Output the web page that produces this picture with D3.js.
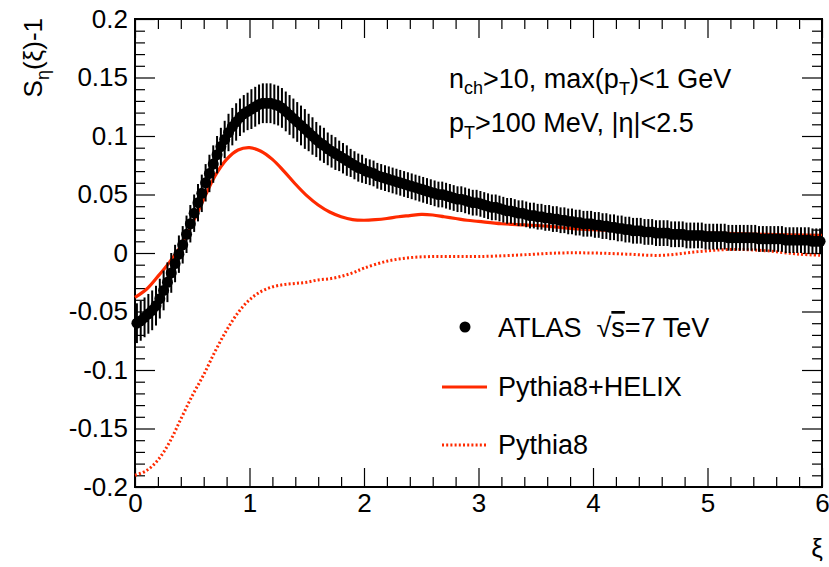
<!DOCTYPE html>
<html>
<head>
<meta charset="utf-8">
<script src="https://cdn.jsdelivr.net/npm/d3@7"></script>
<style>
  html, body { margin: 0; padding: 0; background: #fff; }
  svg { display: block; font-family: "Liberation Sans", Arial, Helvetica, sans-serif; }
</style>
</head>
<body>
<svg id="chart" width="829" height="567"></svg>
<script>
// ---- data ----
const xiMin = 0, xiMax = 6, nBins = 180;
// ATLAS S_eta(xi)-1, one value per bin (bin width 6/180)
const atlasValues = [
  -0.060,-0.058,-0.055,-0.052,-0.049,-0.045,-0.039,-0.032,-0.025,-0.017,
  -0.009,-0.001,0.007,0.016,0.025,0.034,0.043,0.051,0.060,0.068,
  0.076,0.084,0.091,0.097,0.103,0.108,0.112,0.116,0.119,0.121,
  0.123,0.125,0.127,0.128,0.128,0.128,0.127,0.126,0.124,0.121,
  0.118,0.115,0.112,0.109,0.106,0.103,0.100,0.097,0.094,0.092,
  0.089,0.087,0.085,0.083,0.081,0.079,0.077,0.075,0.073,0.072,
  0.070,0.069,0.068,0.066,0.065,0.064,0.063,0.062,0.061,0.060,
  0.059,0.058,0.057,0.056,0.055,0.054,0.053,0.052,0.051,0.050,
  0.050,0.049,0.048,0.047,0.046,0.046,0.045,0.044,0.043,0.043,
  0.042,0.041,0.040,0.039,0.039,0.038,0.037,0.036,0.036,0.035,
  0.034,0.034,0.033,0.032,0.032,0.031,0.031,0.030,0.030,0.029,
  0.029,0.028,0.028,0.027,0.027,0.026,0.026,0.025,0.025,0.025,
  0.024,0.024,0.023,0.023,0.022,0.022,0.021,0.021,0.020,0.020,
  0.019,0.019,0.019,0.018,0.018,0.018,0.017,0.017,0.017,0.017,
  0.016,0.016,0.016,0.016,0.015,0.015,0.015,0.015,0.015,0.014,
  0.014,0.014,0.014,0.014,0.014,0.013,0.013,0.013,0.013,0.013,
  0.013,0.013,0.013,0.012,0.012,0.012,0.012,0.012,0.012,0.012,
  0.011,0.011,0.011,0.011,0.011,0.011,0.011,0.010,0.010,0.010
];
const atlasErrors = [
  0.017,0.017,0.017,0.017,0.017,0.017,0.017,0.017,0.017,0.017,
  0.016,0.016,0.016,0.016,0.016,0.016,0.016,0.016,0.016,0.016,
  0.016,0.016,0.016,0.016,0.016,0.016,0.016,0.016,0.016,0.016,
  0.017,0.017,0.017,0.017,0.017,0.017,0.017,0.017,0.017,0.017,
  0.017,0.017,0.017,0.017,0.017,0.016,0.016,0.015,0.015,0.015,
  0.014,0.014,0.014,0.013,0.013,0.013,0.012,0.012,0.012,0.012,
  0.011,0.011,0.011,0.011,0.011,0.011,0.011,0.011,0.011,0.011,
  0.011,0.011,0.011,0.011,0.011,0.011,0.011,0.011,0.011,0.011,
  0.011,0.011,0.011,0.011,0.011,0.011,0.011,0.011,0.011,0.011,
  0.011,0.011,0.011,0.011,0.011,0.011,0.011,0.011,0.011,0.011,
  0.011,0.011,0.011,0.011,0.011,0.011,0.011,0.011,0.011,0.011,
  0.011,0.011,0.011,0.011,0.011,0.011,0.011,0.011,0.011,0.011,
  0.011,0.011,0.011,0.011,0.011,0.011,0.011,0.011,0.011,0.011,
  0.011,0.011,0.011,0.011,0.011,0.011,0.011,0.011,0.011,0.011,
  0.011,0.011,0.011,0.011,0.011,0.011,0.011,0.011,0.011,0.011,
  0.011,0.011,0.011,0.011,0.011,0.011,0.011,0.011,0.011,0.011,
  0.011,0.011,0.011,0.011,0.011,0.011,0.011,0.011,0.011,0.011,
  0.011,0.011,0.011,0.011,0.011,0.011,0.011,0.011,0.011,0.011
];
// Pythia8+HELIX (solid)
const helixXi = [0,0.1,0.2,0.3,0.4,0.5,0.6,0.7,0.8,0.9,1.0,1.1,1.2,1.3,1.4,1.5,1.6,1.7,1.8,1.9,2.0,2.1,2.2,2.3,2.4,2.5,2.6,2.7,2.8,2.9,3.0,3.2,3.4,3.6,3.8,4.0,4.5,5.0,5.5,6.0];
const helixValues = [-0.038,-0.031,-0.020,-0.008,0.006,0.025,0.046,0.066,0.080,0.088,0.090,0.087,0.080,0.070,0.059,0.049,0.041,0.035,0.031,0.0285,0.028,0.0285,0.0295,0.031,0.032,0.033,0.0325,0.031,0.0295,0.028,0.027,0.025,0.024,0.023,0.021,0.020,0.018,0.017,0.016,0.015];
// Pythia8 (dotted)
const pythiaXi = [0,0.1,0.2,0.3,0.4,0.5,0.6,0.7,0.8,0.9,1.0,1.1,1.2,1.3,1.4,1.5,1.6,1.7,1.8,1.9,2.0,2.2,2.4,2.6,2.8,3.0,3.3,3.7,4.0,4.3,4.6,4.9,5.2,5.5,5.8,6.0];
const pythiaValues = [-0.190,-0.186,-0.177,-0.162,-0.142,-0.122,-0.104,-0.084,-0.066,-0.051,-0.040,-0.033,-0.029,-0.027,-0.026,-0.025,-0.023,-0.022,-0.020,-0.017,-0.013,-0.007,-0.004,-0.003,-0.003,-0.003,-0.002,0.000,0.000,-0.001,-0.002,0.001,0.003,0.002,-0.001,-0.002];

const xMajorTicks = [0,1,2,3,4,5,6];
const xTickLabels = ["0","1","2","3","4","5","6"];
const yMajorTicks = [-0.2,-0.15,-0.1,-0.05,0,0.05,0.1,0.15,0.2];
const yTickLabels = ["-0.2","-0.15","-0.1","-0.05","0","0.05","0.1","0.15","0.2"];
const legendLabels = ["ATLAS", "Pythia8+HELIX", "Pythia8"];

// ---- layout ----
const svg = d3.select("#chart");
const L = 135, R = 822, T = 19, B = 487;
const x = d3.scaleLinear().domain([xiMin, xiMax]).range([L, R]);
const y = d3.scaleLinear().domain([-0.2, 0.2]).range([B, T]);
const red = "#ff2a00";
const fontSize = 26;
const textSize = 27;
const fam = '"Liberation Sans", Arial, Helvetica, sans-serif';

const xMinor = d3.range(0, 31).map(i => i * 0.2).filter(v => Math.abs(v - Math.round(v)) > 1e-6);
const yMinor = d3.range(-20, 21).map(i => i * 0.01).filter(v => Math.abs(v * 20 - Math.round(v * 20)) > 1e-6);

function styleAxis(g) {
  g.selectAll(".domain").remove();
  g.selectAll(".tick line").attr("stroke", "#000").attr("stroke-width", 1.2);
  g.selectAll("text").attr("font-size", fontSize).attr("fill", "#000").attr("font-family", fam);
}

// bottom axis
svg.append("g").attr("transform", `translate(0,${B})`)
  .call(d3.axisBottom(x).tickValues(xMajorTicks).tickSize(-19).tickSizeOuter(0).tickPadding(7)
    .tickFormat((d, i) => xTickLabels[i]))
  .call(styleAxis);
svg.append("g").attr("transform", `translate(0,${B})`)
  .call(d3.axisBottom(x).tickValues(xMinor).tickSize(-10).tickSizeOuter(0).tickFormat(""))
  .call(styleAxis);
// top axis
svg.append("g").attr("transform", `translate(0,${T})`)
  .call(d3.axisTop(x).tickValues(xMajorTicks).tickSize(-19).tickSizeOuter(0).tickFormat(""))
  .call(styleAxis);
svg.append("g").attr("transform", `translate(0,${T})`)
  .call(d3.axisTop(x).tickValues(xMinor).tickSize(-10).tickSizeOuter(0).tickFormat(""))
  .call(styleAxis);
// left axis
svg.append("g").attr("transform", `translate(${L},0)`)
  .call(d3.axisLeft(y).tickValues(yMajorTicks).tickSize(-20).tickSizeOuter(0).tickPadding(7)
    .tickFormat((d, i) => yTickLabels[i]))
  .call(styleAxis);
svg.append("g").attr("transform", `translate(${L},0)`)
  .call(d3.axisLeft(y).tickValues(yMinor).tickSize(-10).tickSizeOuter(0).tickFormat(""))
  .call(styleAxis);
// right axis
svg.append("g").attr("transform", `translate(${R},0)`)
  .call(d3.axisRight(y).tickValues(yMajorTicks).tickSize(-20).tickSizeOuter(0).tickFormat(""))
  .call(styleAxis);
svg.append("g").attr("transform", `translate(${R},0)`)
  .call(d3.axisRight(y).tickValues(yMinor).tickSize(-10).tickSizeOuter(0).tickFormat(""))
  .call(styleAxis);

// frame
svg.append("rect").attr("x", L).attr("y", T).attr("width", R - L).attr("height", B - T)
  .attr("fill", "none").attr("stroke", "#000").attr("stroke-width", 2);

// ---- curves ----
const line = d3.line().x(d => x(d[0])).y(d => y(d[1])).curve(d3.curveCatmullRom.alpha(0.5));
svg.append("path").datum(pythiaXi.map((v, i) => [v, pythiaValues[i]]))
  .attr("d", line).attr("fill", "none").attr("stroke", red).attr("stroke-width", 3)
  .attr("stroke-dasharray", "2,2.2");
svg.append("path").datum(helixXi.map((v, i) => [v, helixValues[i]]))
  .attr("d", line).attr("fill", "none").attr("stroke", red).attr("stroke-width", 3.2);

// ---- ATLAS points ----
const binW = (xiMax - xiMin) / nBins;
const atlas = atlasValues.map((v, i) => ({ xi: xiMin + (i + 0.5) * binW, v, e: atlasErrors[i] }));
const gA = svg.append("g");
gA.selectAll("line.err").data(atlas).enter().append("line")
  .attr("x1", d => x(d.xi)).attr("x2", d => x(d.xi))
  .attr("y1", d => y(d.v - d.e)).attr("y2", d => y(d.v + d.e))
  .attr("stroke", "#000").attr("stroke-width", 2);
gA.selectAll("circle").data(atlas).enter().append("circle")
  .attr("cx", d => x(d.xi)).attr("cy", d => y(d.v)).attr("r", 5.5).attr("fill", "#000");

// ---- axis titles ----
const yt = svg.append("text").attr("transform", "translate(42,18) rotate(-90)")
  .attr("text-anchor", "end").attr("font-size", fontSize);
yt.append("tspan").text("S");
yt.append("tspan").text("η").attr("font-size", 18).attr("dy", 7);
yt.append("tspan").text("(ξ)-1").attr("dy", -7);

svg.append("text").attr("x", 817).attr("y", 557).attr("text-anchor", "middle")
  .attr("font-size", fontSize).text("ξ");

// ---- annotation ----
const a1 = svg.append("text").attr("x", 449).attr("y", 88).attr("font-size", textSize);
a1.append("tspan").text("n");
a1.append("tspan").text("ch").attr("font-size", 18).attr("dy", 6);
a1.append("tspan").text(">10, max(p").attr("dy", -6);
a1.append("tspan").text("T").attr("font-size", 18).attr("dy", 7);
a1.append("tspan").text(")<1 GeV").attr("dy", -7);

const a2 = svg.append("text").attr("x", 449).attr("y", 132).attr("font-size", textSize);
a2.append("tspan").text("p");
a2.append("tspan").text("T").attr("font-size", 18).attr("dy", 7);
a2.append("tspan").text(">100 MeV, |η|<2.5").attr("dy", -7);

// ---- legend ----
const lg = svg.append("g");
lg.append("circle").attr("cx", 465).attr("cy", 327).attr("r", 5.5).attr("fill", "#000");
const l1 = lg.append("text").attr("x", 498).attr("y", 337).attr("font-size", textSize);
l1.append("tspan").text(legendLabels[0] + "\u00A0\u00A0\u221A");
l1.append("tspan").text("s").attr("text-decoration", "overline");
l1.append("tspan").text("=7 TeV");

lg.append("line").attr("x1", 442).attr("x2", 487).attr("y1", 387).attr("y2", 387)
  .attr("stroke", red).attr("stroke-width", 3.2);
lg.append("text").attr("x", 498).attr("y", 396).attr("font-size", textSize).text(legendLabels[1]);

lg.append("line").attr("x1", 442).attr("x2", 487).attr("y1", 445).attr("y2", 445)
  .attr("stroke", red).attr("stroke-width", 3).attr("stroke-dasharray", "2,2.2");
lg.append("text").attr("x", 498).attr("y", 454).attr("font-size", textSize).text(legendLabels[2]);
</script>
</body>
</html>
